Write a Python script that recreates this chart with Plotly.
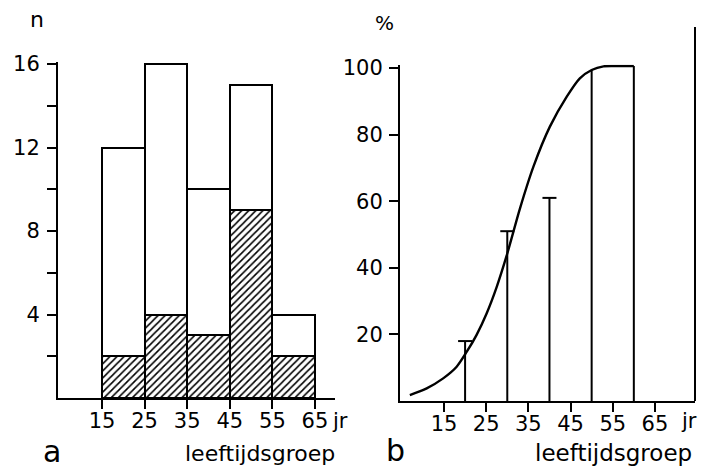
import plotly.graph_objects as go

# ---- data ----
age_mid = [20, 30, 40, 50, 60]
tick_ages = [15, 25, 35, 45, 55, 65]
tick_labels = ["15", "25", "35", "45", "55", "65"]

n_total = [12, 16, 10, 15, 4]
n_hatched = [2, 4, 3, 9, 2]

b_ages = [20, 30, 40, 50, 60]
b_pct = [18, 51, 61, 99.4, 100.6]
b_cap = [True, True, True, False, False]

curve_age = [6.9, 10.9, 14.8, 18.0, 20.4, 22.7, 25.1, 27.5, 30.0, 33.0, 36.2,
             40.1, 44.1, 47.2, 50.0, 52.8, 56.0, 60.0]
curve_pct = [1.8, 3.8, 6.8, 10.3, 14.8, 19.8, 26.3, 34.3, 44.3, 57.8, 70.4,
             82.4, 91.4, 96.9, 99.4, 100.5, 100.6, 100.6]

FONT = "DejaVu Sans"
W, H = 704, 470

def px_x(p):
    return p / W

def px_y(p):
    return 1 - p / H

fig = go.Figure()

# ---- panel a ----
fig.add_trace(go.Bar(
    x=age_mid, y=n_total, width=10,
    marker=dict(color="white", line=dict(color="black", width=2)),
    xaxis="x", yaxis="y", showlegend=False,
))
fig.add_trace(go.Bar(
    x=age_mid, y=n_hatched, width=10,
    marker=dict(color="white", line=dict(color="black", width=2),
                pattern=dict(shape="/", fgcolor="black", bgcolor="white",
                             size=5, solidity=0.32)),
    xaxis="x", yaxis="y", showlegend=False,
))

# ---- panel b ----
vx, vy = [], []
for a, p in zip(b_ages, b_pct):
    vx += [a, a, None]
    vy += [0, p, None]
fig.add_trace(go.Scatter(
    x=vx, y=vy, mode="lines", line=dict(color="black", width=2),
    xaxis="x2", yaxis="y2", showlegend=False, hoverinfo="skip",
))
fig.add_trace(go.Scatter(
    x=[a for a, c in zip(b_ages, b_cap) if c],
    y=[p for p, c in zip(b_pct, b_cap) if c],
    mode="markers",
    marker=dict(symbol="line-ew-open", size=10, color="black",
                line=dict(color="black", width=2)),
    xaxis="x2", yaxis="y2", showlegend=False, cliponaxis=False,
))
fig.add_trace(go.Scatter(
    x=curve_age, y=curve_pct, mode="lines",
    line=dict(color="black", width=2.4, shape="spline", smoothing=0.8),
    xaxis="x2", yaxis="y2", showlegend=False, cliponaxis=False,
))

axis_common = dict(
    showline=True, linewidth=2, linecolor="black",
    ticks="outside", tickwidth=2, ticklen=9, tickcolor="black",
    showgrid=False, zeroline=False, automargin=False,
    tickfont=dict(family=FONT, size=21, color="black"),
)

fig.update_layout(
    template="none",
    width=W, height=H,
    margin=dict(l=0, r=0, t=0, b=0, pad=0),
    paper_bgcolor="white", plot_bgcolor="white",
    barmode="overlay", bargap=0,
    font=dict(family=FONT, color="black"),
    xaxis=dict(domain=[px_x(58), px_x(335)], range=[4.67, 69.7],
               tickvals=tick_ages, ticktext=tick_labels, anchor="y",
               ticklabelstandoff=-6, **axis_common),
    yaxis=dict(domain=[px_y(398), px_y(62)], range=[0, 16.1],
               tickvals=[2, 4, 6, 8, 10, 12, 14, 16],
               ticktext=["", "4", "", "8", "", "12", "", "16"],
               anchor="x", ticklabelstandoff=3, **axis_common),
    xaxis2=dict(domain=[px_x(400), px_x(695)], range=[4.57, 74.5],
                tickvals=tick_ages, ticktext=tick_labels, anchor="y2",
                ticklabelstandoff=-6, **axis_common),
    yaxis2=dict(domain=[px_y(401), px_y(64.7)], range=[0, 101],
                tickvals=[20, 40, 60, 80, 100],
                anchor="x2", ticklabelstandoff=2, **axis_common),
)

# right frame line of panel b
fig.add_shape(type="line", xref="x2 domain", yref="y2 domain",
              x0=1, x1=1, y0=0, y1=(401 - 27) / (401 - 64.7),
              line=dict(color="black", width=2))

def ann(text, x, y, size, xanchor="center"):
    fig.add_annotation(text=text, x=px_x(x), y=px_y(y), xref="paper", yref="paper",
                       showarrow=False, xanchor=xanchor, yanchor="middle",
                       font=dict(family=FONT, size=size, color="black"))

ann("n", 37, 20, 22)
ann("%", 384, 23, 20)
ann("jr", 330, 421, 21, "left")
ann("jr", 679, 421, 21, "left")
ann("a", 52, 451, 30)
ann("b", 395, 450, 30)
ann("leeftijdsgroep", 260, 453, 22)
ann("leeftijdsgroep", 613, 453, 23)

fig.write_html(
    "out.html",
    config={"displayModeBar": False},
    post_script="document.body.style.margin='0';document.body.style.overflow='hidden';",
)
